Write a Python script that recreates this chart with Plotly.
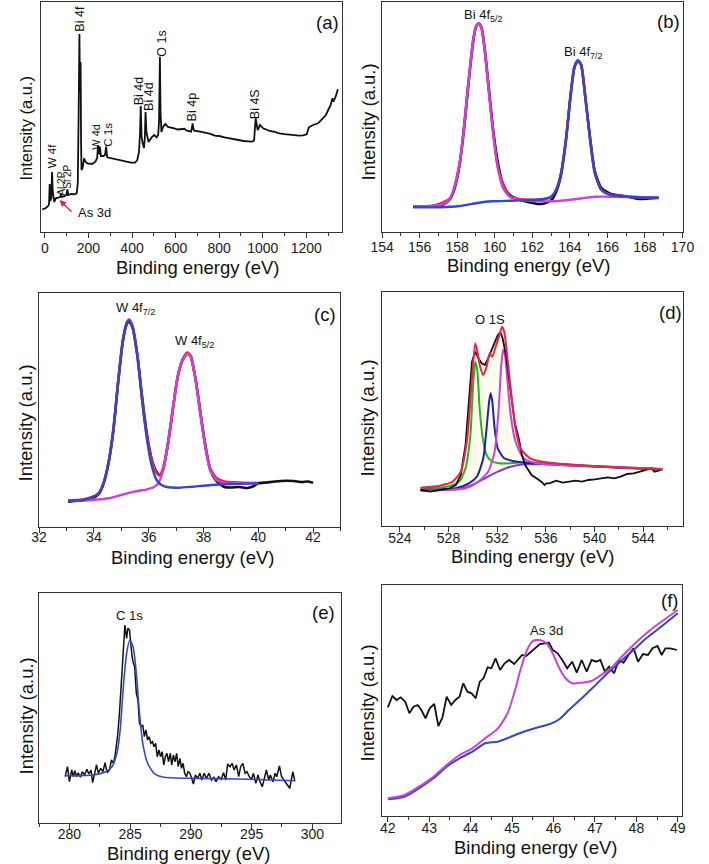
import plotly.graph_objects as go

W, H = 709, 864
FONT = "Liberation Sans, Arial, sans-serif"

# ---------------- DATA ----------------
# (a) survey spectrum: binding energy (eV) and intensity (a.u.)
a_x = [-12, 3, 15, 19, 22, 25, 29, 33, 36, 39, 43, 50, 62, 70, 74, 78, 88, 99, 103, 107, 121, 136, 146, 151,
       155, 158.5, 161, 164, 166, 168, 173, 180, 187, 195, 217, 232, 240, 244, 248, 253, 257, 269, 276, 281, 286,
       306, 336, 365, 395, 414, 424, 432, 437, 440, 444, 449, 455, 459, 462, 466, 470, 476, 491, 502, 513, 520,
       524, 528, 531, 535, 542, 553, 565, 580, 594, 610, 624, 640, 653, 671, 675, 678, 682, 686, 713, 742, 760,
       780, 800, 825, 850, 869, 890, 913, 935, 950, 958, 961, 965, 968, 972, 977, 982, 987, 1002, 1032, 1055,
       1076, 1100, 1121, 1145, 1165, 1185, 1202, 1212, 1231, 1254, 1276, 1290, 1301, 1312, 1320, 1324, 1335, 1345]
a_y = [22.7, 23.7, 26, 28, 48, 31, 34, 60, 40, 32, 30, 33.7, 34.7, 35, 38, 35, 35.5, 37, 42.7, 37, 38, 37.7, 38.7, 48.7,
       120, 198, 140, 170, 90, 62, 64, 73.7, 70, 68.7, 68, 70.3, 74, 86.7, 77.7, 85, 76, 76, 77, 85.3, 74.7,
       73.7, 72, 71, 69.3, 69.3, 72, 80, 100, 126, 95, 88.7, 84, 95, 120, 100, 95, 90, 95, 97, 94.7, 97,
       110, 175.3, 120, 100, 105, 108, 105, 104.5, 103.7, 102.5, 102.7, 103.2, 101.3, 100.3, 104, 108.7, 103, 101.3, 100.3, 98.7, 98.2,
       96.3, 96.0, 94.7, 93.5, 92.7, 92.2, 91, 90.6, 90.3, 91, 93, 106, 113.7, 108, 102, 104, 107, 103.7, 101, 100.2,
       98.7, 97.8, 97, 96.8, 96.3, 96.6, 97.7, 104.7, 107, 108.7, 113.7, 117, 122, 127, 133.7, 130.3, 135.3, 142.7]
a_peaks = ["W 4f", "Al 2P", "Si 2P", "Bi 4f", "W 4d", "C 1s", "Bi 4d", "Bi 4d", "O 1s", "Bi 4p", "Bi 4S"]

# (b) Bi 4f region
b_x_blk = [155.65, 156.76, 157.28, 157.62, 157.87, 158.13, 158.39, 158.65, 158.85, 159.02, 159.16, 159.30, 159.47,
           159.68, 159.93, 160.19, 160.45, 160.79, 161.22, 161.90, 162.30, 162.59, 163.02, 163.27, 163.53, 163.79,
           164.05, 164.25, 164.43, 164.60, 164.82, 165.08, 165.33, 165.68, 166.19, 167.05, 167.73, 168.20, 168.73]
b_y_blk = [25.3, 26.0, 27.7, 33.0, 44.0, 67.0, 107.0, 157.0, 191.0, 206.0, 208.5, 204.0, 183.0, 145.0, 100.0, 67.0,
           47.0, 37.0, 33.0, 29.5, 28.0, 28.3, 32.0, 40.0, 57.0, 91.0, 138.0, 165.0, 171.5, 167.5, 136.0, 94.0,
           61.0, 44.0, 38.0, 35.5, 33.0, 33.5, 34.3]
b_x_red = [155.65, 156.76, 157.62, 158.13, 158.65, 159.02, 159.16, 159.30, 159.68, 160.19, 160.79, 161.22, 161.90,
           162.59, 163.02, 163.27, 163.53, 163.79, 164.05, 164.25, 164.43, 164.60, 164.82, 165.08, 165.33, 165.68,
           166.19, 167.05, 168.73]
b_y_red = [25.5, 26.5, 34.0, 69.0, 159.0, 206.3, 208.3, 204.0, 142.5, 62.5, 35.8, 33.3, 32.3, 33.0, 35.6, 42.3,
           59.0, 92.3, 139.0, 165.6, 171.6, 167.3, 135.6, 92.3, 59.0, 42.3, 37.3, 35.6, 34.3]
b_x_mag = [155.65, 156.76, 157.28, 157.62, 157.87, 158.13, 158.39, 158.65, 158.85, 159.02, 159.16, 159.30, 159.47,
           159.68, 159.93, 160.19, 160.45, 160.79, 161.22, 161.90, 162.94, 163.96, 164.65, 165.33, 166.36, 167.73,
           168.73]
b_y_mag = [25.3, 26.3, 28.0, 33.7, 45.3, 68.7, 108.7, 158.7, 192.0, 206.0, 208.0, 203.7, 182.0, 142.0, 95.3, 62.0,
           43.7, 35.3, 32.7, 31.3, 30.7, 32.0, 33.7, 35.3, 35.3, 34.7, 34.7]
b_x_blue = [155.65, 157.10, 158.13, 159.16, 159.85, 160.88, 161.90, 162.59, 163.02, 163.27, 163.53, 163.79, 164.05,
            164.25, 164.43, 164.60, 164.82, 165.08, 165.33, 165.68, 166.19, 167.05, 168.73]
b_y_blue = [24.7, 24.7, 26.0, 29.3, 30.7, 31.3, 32.0, 32.7, 35.3, 42.0, 58.7, 92.0, 138.7, 165.3, 171.3, 167.0,
            135.3, 92.0, 58.7, 42.0, 37.0, 35.3, 34.0]

# (c) W 4f region
c_x_blk = [33.06, 33.30, 33.59, 33.94, 34.18, 34.35, 34.53, 34.71, 34.88, 35.06, 35.20, 35.29, 35.41, 35.59, 35.76,
           35.94, 36.12, 36.29, 36.41, 36.53, 36.71, 36.88, 37.06, 37.24, 37.41, 37.53, 37.71, 37.88, 38.06, 38.24,
           38.47, 38.76, 39.00, 39.30, 39.60, 39.80, 40.00, 40.30, 40.60, 41.00, 41.30, 41.60, 41.80, 42.00]
c_y_blk = [25.3, 26.0, 26.7, 28.5, 33.0, 43.0, 63.0, 96.0, 143.0, 186.0, 203.0, 205.5, 199.5, 171.0, 130.0, 92.0,
           67.0, 55.0, 52.0, 58.0, 84.0, 117.0, 150.0, 167.0, 173.5, 170.5, 148.0, 116.0, 83.0, 58.0, 46.0, 40.0,
           39.5, 40.0, 39.0, 40.5, 43.7, 44.5, 45.5, 46.3, 46.0, 45.0, 45.5, 44.3]
c_x_red = [33.06, 33.59, 33.94, 34.18, 34.35, 34.53, 34.71, 34.88, 35.06, 35.20, 35.29, 35.41, 35.59, 35.76, 35.94,
           36.12, 36.29, 36.41, 36.53, 36.71, 36.88, 37.06, 37.24, 37.41, 37.53, 37.71, 37.88, 38.06, 38.24, 38.47,
           38.76, 39.24, 40.00]
c_y_red = [26.7, 27.5, 30.0, 34.0, 44.0, 64.0, 97.5, 144.0, 187.5, 204.5, 207.5, 201.0, 171.0, 128.0, 90.0, 66.0,
           54.0, 51.5, 59.0, 85.0, 118.0, 151.0, 168.0, 174.5, 171.5, 148.0, 115.0, 82.0, 59.0, 49.0, 45.5, 44.5, 44.0]
c_x_mag = [33.06, 33.94, 34.53, 35.00, 35.47, 35.94, 36.18, 36.35, 36.53, 36.71, 36.88, 37.06, 37.24, 37.41, 37.53,
           37.71, 37.88, 38.06, 38.24, 38.47, 38.76, 39.24, 40.00]
c_y_mag = [26.3, 27.0, 28.7, 32.0, 35.3, 37.7, 39.7, 43.7, 57.0, 83.7, 117.0, 150.3, 167.0, 173.0, 170.3, 147.0,
           113.7, 80.3, 57.0, 47.0, 44.3, 43.7, 43.7]
c_x_blue = [33.06, 33.59, 33.94, 34.18, 34.35, 34.53, 34.71, 34.88, 35.06, 35.20, 35.29, 35.41, 35.59, 35.76, 35.94,
            36.12, 36.29, 36.47, 36.71, 37.12, 37.59, 38.29, 39.00, 40.00]
c_y_blue = [26.3, 27.0, 29.7, 33.7, 43.7, 63.7, 97.0, 143.7, 187.0, 203.7, 206.3, 200.3, 170.3, 127.0, 87.0, 60.3,
            47.0, 42.0, 39.7, 39.3, 40.3, 42.0, 43.0, 43.7]

# (d) O 1s region
d_x_bg = [525.7, 527.5, 528.87, 529.93, 530.99, 532.05, 533.11, 534.17, 535.76, 538.0, 541.0, 544.0, 545.6]
d_y_bg = [36.0, 36.3, 37.0, 41.0, 47.7, 54.3, 59.3, 61.7, 61.7, 60.5, 59.0, 57.5, 56.7]
d_x_grn = [525.7, 527.81, 528.87, 529.40, 529.80, 530.01, 530.20, 530.38, 530.54, 530.78, 531.13, 531.52, 532.19,
           533.11, 534.17, 535.76, 540.0, 545.6]
d_y_grn = [37.7, 39.3, 44.3, 57.7, 91.0, 137.7, 164.3, 154.3, 121.0, 91.0, 71.0, 65.0, 62.7, 62.7, 63.7, 63.0,
           60.0, 57.0]
d_x_blue = [525.7, 528.6, 529.67, 530.33, 530.86, 531.13, 531.34, 531.47, 531.60, 531.79, 532.05, 532.58, 533.64,
            534.97, 540.0, 545.6]
d_y_blue = [36.0, 37.7, 42.7, 49.3, 67.7, 97.7, 124.3, 132.7, 124.3, 97.7, 77.7, 67.7, 64.3, 62.7, 59.5, 56.5]
d_x_mag = [525.7, 529.40, 530.46, 531.26, 531.79, 532.11, 532.32, 532.48, 532.64, 532.85, 533.11, 533.51, 534.17,
           535.23, 540.0, 545.6]
d_y_mag = [35.3, 37.7, 44.3, 54.3, 74.3, 114.3, 157.7, 176.0, 171.0, 144.3, 111.0, 84.3, 67.7, 62.7, 59.7, 57.0]
d_x_red = [525.7, 527.28, 528.34, 529.01, 529.54, 529.93, 530.20, 530.38, 530.60, 530.86, 531.13, 531.39, 531.60,
           531.84, 532.19, 532.40, 532.58, 532.85, 533.17, 533.51, 533.91, 534.70, 535.76, 538.44, 542.41, 545.46]
d_y_red = [38.3, 40.3, 44.3, 54.3, 87.7, 147.7, 182.7, 174.3, 159.3, 151.0, 159.3, 172.7, 169.3, 177.7, 191.0,
           199.3, 194.3, 167.7, 131.0, 97.7, 77.7, 67.7, 64.3, 61.0, 58.3, 56.7]
d_x_blk = [525.7, 526.49, 527.28, 528.08, 528.61, 529.01, 529.40, 529.72, 529.93, 530.20, 530.46, 530.73, 530.99,
           531.26, 531.52, 531.79, 532.05, 532.26, 532.45, 532.72, 533.11, 533.43, 533.77, 534.04, 534.30, 534.57,
           534.83, 535.23, 535.63, 535.89, 536.05, 536.29, 536.69, 536.85, 537.38, 537.91, 538.44, 538.97, 539.50,
           540.03, 540.56, 541.09, 541.62, 542.15, 542.68, 543.21, 543.74, 544.26, 544.66, 544.93, 545.46]
d_y_blk = [36.0, 34.3, 36.0, 37.7, 41.0, 51.0, 81.0, 131.0, 164.3, 174.3, 167.7, 162.7, 161.0, 167.7, 176.0, 184.3,
           191.0, 193.7, 187.7, 171.0, 134.3, 104.3, 87.7, 71.0, 61.0, 56.0, 51.0, 47.7, 44.3, 41.0, 42.7, 42.7,
           44.3, 45.3, 43.3, 44.3, 45.3, 44.3, 46.0, 46.7, 47.7, 48.7, 47.7, 49.3, 52.0, 52.7, 54.3, 56.0, 57.7,
           54.3, 56.0]

# (e) C 1s region
e_x_blk = [279.65, 279.84, 280.00, 280.19, 280.32, 280.45, 280.59, 280.72, 280.90, 281.06, 281.25, 281.44, 281.60,
           281.78, 281.91, 282.07, 282.23, 282.39, 282.58, 282.77, 282.93, 283.11, 283.30, 283.46, 283.64, 283.78,
           283.96, 284.12, 284.31, 284.47, 284.57, 284.71, 284.81, 284.95, 285.05, 285.16, 285.27, 285.37, 285.51,
           285.64, 285.77, 285.90, 286.04, 286.17, 286.30, 286.44, 286.57, 286.70, 286.84, 286.97, 287.10, 287.23,
           287.37, 287.50, 287.63, 287.77, 287.90, 288.03, 288.16, 288.30, 288.43, 288.56, 288.70, 288.83, 288.96,
           289.10, 289.23, 289.36, 289.49, 289.63, 289.76, 289.89, 290.03, 290.21, 290.37, 290.56, 290.74, 290.90,
           291.09, 291.28, 291.49, 291.70, 291.89, 292.07, 292.29, 292.50, 292.69, 292.87, 293.03, 293.22, 293.40,
           293.56, 293.75, 293.94, 294.10, 294.28, 294.47, 294.63, 294.81, 295.00, 295.16, 295.35, 295.53, 295.69,
           295.88, 296.06, 296.22, 296.41, 296.54, 296.76, 296.94, 297.07, 297.29, 297.47, 297.66, 297.82, 298.01,
           298.14, 298.27, 298.40, 298.54]
e_y_blk = [46.3, 56.3, 41.3, 53.0, 46.3, 52.3, 46.3, 50.3, 45.7, 51.3, 48.0, 53.7, 49.0, 53.0, 40.3, 51.3, 58.0,
           49.7, 54.7, 51.3, 60.3, 50.3, 53.0, 63.0, 59.7, 69.7, 86.3, 109.7, 146.3, 173.0, 198.0, 184.7, 194.7,
           193.0, 176.3, 166.3, 159.7, 156.3, 129.7, 123.0, 99.7, 96.3, 98.0, 86.3, 93.0, 83.0, 86.3, 79.7, 81.3,
           76.3, 79.7, 66.3, 73.0, 66.3, 71.3, 58.0, 66.3, 69.7, 61.3, 69.7, 58.0, 68.0, 61.3, 69.7, 56.3, 64.7,
           54.7, 59.7, 49.7, 46.3, 51.3, 50.3, 46.3, 39.0, 48.0, 44.7, 49.7, 43.0, 49.7, 44.7, 49.7, 43.0, 45.7,
           41.3, 46.3, 43.7, 50.3, 43.0, 59.0, 56.3, 59.7, 53.0, 58.0, 46.3, 56.3, 59.7, 49.7, 51.3, 46.3, 43.7,
           49.7, 39.7, 48.0, 41.3, 36.3, 46.3, 53.0, 43.0, 48.0, 41.3, 49.7, 46.3, 57.0, 46.3, 43.0, 41.3, 38.0,
           34.7, 43.0, 51.3, 43.0]
e_x_fit = [279.65, 281.91, 282.98, 283.51, 283.91, 284.18, 284.44, 284.71, 284.97, 285.24, 285.51, 285.77, 286.04,
           286.44, 286.97, 287.77, 289.89, 293.88, 298.62]
e_y_fit = [47.3, 48.0, 51.3, 56.3, 69.7, 93.0, 136.3, 169.7, 183.0, 176.3, 149.7, 109.7, 79.7, 59.7, 49.7, 45.7,
           44.7, 44.0, 42.3]

# (f) As 3d region
f_x_blk = [42.00, 42.11, 42.21, 42.31, 42.42, 42.52, 42.62, 42.72, 42.81, 42.91, 43.01, 43.12, 43.22, 43.32, 43.42,
           43.53, 43.63, 43.73, 43.82, 43.92, 44.02, 44.12, 44.22, 44.31, 44.41, 44.50, 44.60, 44.71, 44.82, 44.93,
           45.05, 45.14, 45.24, 45.34, 45.45, 45.55, 45.67, 45.79, 45.89, 45.98, 46.10, 46.21, 46.33, 46.45, 46.56,
           46.68, 46.80, 46.92, 47.03, 47.13, 47.24, 47.34, 47.46, 47.58, 47.69, 47.81, 47.93, 48.04, 48.16, 48.28,
           48.39, 48.51, 48.61, 48.70, 48.82, 48.98]
f_y_blk = [108.7, 120.0, 116.0, 118.7, 114.3, 102.7, 109.3, 111.0, 106.0, 97.7, 107.7, 112.0, 90.0, 98.7, 119.3,
           111.0, 116.0, 119.3, 132.7, 124.3, 122.7, 117.7, 134.3, 137.7, 148.7, 147.7, 157.7, 146.0, 152.7, 156.0,
           152.0, 156.7, 161.0, 160.0, 164.3, 167.7, 172.0, 172.7, 173.3, 166.0, 162.7, 156.0, 147.7, 154.3, 143.3,
           156.0, 144.3, 156.0, 154.3, 156.0, 144.3, 149.3, 142.7, 156.0, 153.3, 161.0, 167.7, 154.3, 162.0, 161.0,
           167.7, 170.0, 161.0, 167.7, 167.7, 166.0]
f_x_bg = [42.00, 42.40, 42.75, 43.10, 43.42, 43.73, 44.04, 44.35, 44.66, 44.97, 45.28, 45.59, 45.90, 46.14, 46.37,
          46.68, 46.99, 47.30, 47.61, 47.93, 48.24, 48.55, 49.00]
f_y_bg = [16.7, 19.3, 27.7, 37.7, 49.3, 57.7, 64.3, 72.7, 74.3, 79.3, 84.3, 88.3, 91.7, 96.7, 106.0, 117.7, 130.0,
          142.7, 154.3, 166.0, 177.7, 187.7, 202.7]
f_x_fit = [42.00, 42.40, 42.75, 43.10, 43.42, 43.73, 44.04, 44.35, 44.66, 44.89, 45.05, 45.20, 45.36, 45.51, 45.67,
           45.83, 45.98, 46.14, 46.29, 46.45, 46.68, 46.92, 47.15, 47.38, 47.61, 47.93, 48.24, 48.55, 49.00]
f_y_fit = [17.7, 21.0, 29.3, 39.3, 51.0, 61.0, 67.7, 77.7, 87.7, 102.7, 122.7, 146.0, 166.0, 175.3, 176.0, 172.7,
           162.7, 147.7, 137.7, 132.7, 133.3, 135.0, 141.0, 147.7, 157.7, 171.0, 182.7, 192.7, 206.0]

# ---------------- STYLE / LAYOUT ----------------
BLACK = "#111111"
RED = "#ee2244"
MAG = "#c843dc"
BLUE = "#3346cc"
NAVY = "#1c22b0"
GREEN = "#22b422"
VIOLET = "#7a3fd0"
AXC = "#333333"


def P(px, py):
    return px / W, 1 - py / H


# panel boxes in pixels: left, right, top, bottom
boxes = {
    1: (30, 342, 2, 232),
    2: (383, 694, 2, 232),
    3: (28, 340, 293, 527),
    4: (383, 695, 292, 526),
    5: (28, 341, 593, 823),
    6: (383, 693, 585, 816),
}
xranges = {1: [-18, 1366], 2: [153.999, 170.001], 3: [31.999, 43.0], 4: [522.54, 547.31],
           5: [277.5, 302.4], 6: [41.86, 49.09]}
dticks = {1: (200, 100), 2: (2, 1), 3: (2, 1), 4: (4, 2), 5: (5, 2.5), 6: (1, 0.5)}
standoff = {1: -2, 2: -3, 3: -8, 4: -6, 5: -7, 6: -6}

fig = go.Figure()


def add(i, x, y, color, width, spline=False, **kw):
    fig.add_trace(go.Scatter(
        x=x, y=y, mode="lines",
        line=dict(color=color, width=width, shape="spline" if spline else "linear", smoothing=0.6),
        xaxis="x" if i == 1 else f"x{i}", yaxis="y" if i == 1 else f"y{i}",
        hoverinfo="skip", **kw))


# (a)
add(1, a_x, a_y, BLACK, 1.8)
# (b)
add(2, b_x_blk, b_y_blk, BLACK, 2.6, True)
add(2, b_x_red, b_y_red, RED, 2.4, True)
add(2, b_x_mag, b_y_mag, MAG, 2.4, True)
add(2, b_x_blue, b_y_blue, BLUE, 2.4, True)
# (c)
add(3, c_x_blk, c_y_blk, BLACK, 2.6, True)
add(3, c_x_red, c_y_red, RED, 2.6, True)
add(3, c_x_mag, c_y_mag, MAG, 2.4, True)
add(3, c_x_blue, c_y_blue, BLUE, 2.4, True)
# (d)
add(4, d_x_red + d_x_bg[::-1], d_y_red + d_y_bg[::-1], "rgba(0,0,0,0)", 0, True,
    fill="toself", fillcolor="rgba(255,248,215,0.45)")
add(4, d_x_bg, d_y_bg, VIOLET, 2.0, True)
add(4, d_x_grn, d_y_grn, GREEN, 2.0, True)
add(4, d_x_blue, d_y_blue, NAVY, 2.0, True)
add(4, d_x_mag, d_y_mag, MAG, 2.0, True)
add(4, d_x_blk, d_y_blk, BLACK, 1.8)
add(4, d_x_red, d_y_red, RED, 2.0, True)
# (e)
add(5, e_x_blk, e_y_blk, BLACK, 1.5)
add(5, e_x_fit, e_y_fit, BLUE, 1.6, True)
# (f)
add(6, f_x_blk, f_y_blk, BLACK, 1.8)
add(6, f_x_bg, f_y_bg, BLUE, 2.0, True)
add(6, f_x_fit, f_y_fit, MAG, 2.0, True)

layout = dict(width=W, height=H, margin=dict(l=0, r=0, t=0, b=0), showlegend=False,
              paper_bgcolor="white", plot_bgcolor="white", font=dict(family=FONT, color="#1a1a1a"))

for i, (l, r, t, b) in boxes.items():
    xk = "xaxis" if i == 1 else f"xaxis{i}"
    yk = "yaxis" if i == 1 else f"yaxis{i}"
    xa = "x" if i == 1 else f"x{i}"
    ya = "y" if i == 1 else f"y{i}"
    d, md = dticks[i]
    layout[xk] = dict(domain=[l / W, r / W], anchor=ya, range=xranges[i], tick0=0, dtick=d,
                      ticks="outside", ticklen=5, tickwidth=1, tickcolor=AXC,
                      showline=True, linecolor=AXC, linewidth=1, mirror=True,
                      showgrid=False, zeroline=False, fixedrange=True,
                      ticklabelstandoff=standoff[i],
                      tickfont=dict(family=FONT, size=14, color="#1a1a1a"),
                      minor=dict(dtick=md, tick0=0, ticks="outside", ticklen=3, tickcolor=AXC, showgrid=False))
    layout[yk] = dict(domain=[1 - b / H, 1 - t / H], anchor=xa, range=[0, b - t],
                      showticklabels=False, ticks="", showline=True, linecolor=AXC, linewidth=1,
                      mirror=True, showgrid=False, zeroline=False, fixedrange=True)

ann = []


def text(s, px, py, size, angle=0):
    x, y = P(px, py)
    ann.append(dict(text=s, x=x, y=y, xref="paper", yref="paper", showarrow=False,
                    xanchor="center", yanchor="middle", textangle=angle,
                    font=dict(family=FONT, size=size, color="#111111")))


# panel letters
for s, px, py in [("(a)", 327, 23), ("(b)", 679, 22), ("(c)", 324, 315), ("(d)", 682, 312),
                  ("(e)", 322, 612), ("(f)", 681, 600)]:
    text(s, px, py, 18.5)

# axis titles
for px, py in [(193, 267), (535, 265), (187, 557), (539, 556), (183, 853), (542, 847)]:
    text("Binding energy (eV)", px, py, 18.5)
for (px, py), sz in zip([(15, 128), (368, 122), (15, 423), (367, 418), (15, 716), (367, 703)],
                        [16.5, 18.5, 18.5, 18.5, 18.5, 18.5]):
    text("Intensity (a.u.)", px, py, sz, -90)

# (a) peak labels (rotated)
a_pos = [(41.7, 156, 11.5), (50.3, 184, 10), (56.7, 177, 10), (70, 19, 12.5), (86.7, 137, 11),
         (99, 135, 11.5), (131.7, 91, 12.5), (141.7, 96, 12.5), (155, 44, 12.5), (186.7, 107, 12.5),
         (251.7, 104, 12.5)]
for s, (px, py, sz) in zip(a_peaks, a_pos):
    text(s, px, py, sz, -90)
text("As 3d", 85, 212.5, 13)
hx, hy = P(49.3, 200)
ann.append(dict(text="", x=hx, y=hy, xref="paper", yref="paper", showarrow=True,
                ax=13.4, ay=13.3, axref="pixel", ayref="pixel", arrowcolor="#e8204a",
                arrowhead=2, arrowsize=1, arrowwidth=1.3, standoff=0))

# other peak labels
text("Bi 4f<sub>5/2</sub>", 487.7, 15, 13)
text("Bi 4f<sub>7/2</sub>", 591.7, 52, 13)
text("W 4f<sub>7/2</sub>", 128, 308.5, 13)
text("W 4f<sub>5/2</sub>", 189.3, 342, 13)
text("O 1S", 495, 319.5, 13)
text("C 1s", 121.7, 615, 13)
text("As 3d", 553.3, 630, 13)

layout["annotations"] = ann
fig.update_layout(**layout)
fig.write_html("out.html")
